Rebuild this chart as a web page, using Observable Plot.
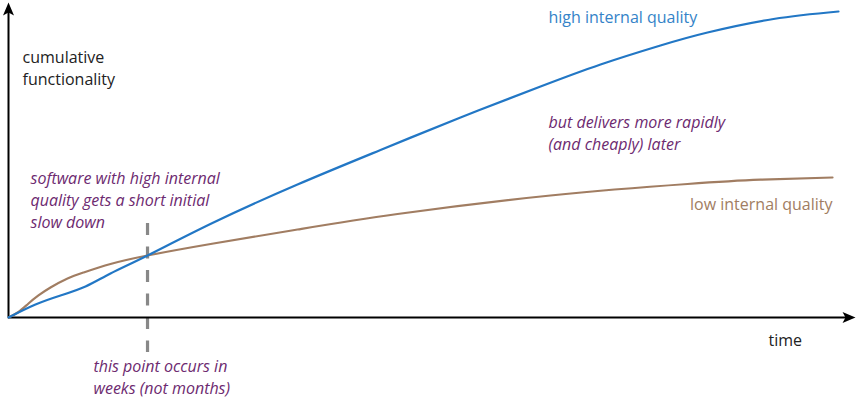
<!DOCTYPE html>
<html>
<head>
<meta charset="utf-8">
<script src="https://cdn.jsdelivr.net/npm/d3@7"></script>
<script src="https://cdn.jsdelivr.net/npm/@observablehq/plot@0.6"></script>
<style>
  html, body { margin: 0; padding: 0; background: #fff; }
  #chart svg { display: block; }
</style>
</head>
<body>
<div id="chart"></div>
<script>
// time (0..100) and cumulative functionality (0..100)
const highTime = [0, 3.25, 6.27, 9.28, 12.29, 16.75, 24.70, 34.82, 44.82, 54.46, 64.10, 71.33, 78.55, 84.22, 92.17, 100];
const highFunc = [0, 4.23, 7.17, 10.10, 14.33, 20.20, 30.94, 43.32, 54.56, 65.15, 75.24, 82.41, 88.60, 92.83, 97.23, 99.67];
const lowTime = [0, 1.20, 2.41, 3.61, 5.06, 7.11, 9.04, 12.29, 16.75, 24.70, 34.82, 46.87, 65.30, 81.81, 90.60, 99.28];
const lowFunc = [0, 1.79, 4.56, 7.17, 9.77, 12.70, 14.66, 17.43, 20.20, 24.10, 28.66, 33.71, 39.74, 43.49, 44.89, 45.60];

const crossTime = 16.75;          // where the two curves cross
const axisEnd = {x: 102.05, y: 102.6};

const labels = [
  {t: 1.69, f: 75.6, text: "cumulative\nfunctionality", color: "#222", italic: false, anchor: "start"},
  {t: 91.57, f: -9.2, text: "time", color: "#222", italic: false, anchor: "start"},
  {t: 65.06, f: 95.8, text: "high internal quality", color: "#3483c8", italic: false, anchor: "start"},
  {t: 99.28, f: 34.9, text: "low internal quality", color: "#a17d62", italic: false, anchor: "end"},
  {t: 65.06, f: 54.4, text: "but delivers more rapidly\n(and cheaply) later", color: "#6d2a70", italic: true, anchor: "start"},
  {t: 2.65, f: 29.3, text: "software with high internal\nquality gets a short initial\nslow down", color: "#6d2a70", italic: true, anchor: "start"},
  {t: 10.24, f: -25.0, text: "this point occurs in\nweeks (not months)", color: "#6d2a70", italic: true, anchor: "start"}
];

const high = highTime.map((t, i) => ({t, f: highFunc[i]}));
const low = lowTime.map((t, i) => ({t, f: lowFunc[i]}));

const arrowHead = {
  draw(context, size) {
    context.moveTo(0, 0);
    context.lineTo(5.5, 13);
    context.lineTo(0, 10);
    context.lineTo(-5.5, 13);
    context.closePath();
  }
};

const textMark = (items, italic, anchor) => Plot.text(items, {
  x: "t", y: "f", text: "text", fill: "color",
  textAnchor: anchor,
  lineAnchor: "bottom", lineHeight: 1.375,
  fontSize: 16, fontStyle: italic ? "italic" : "normal",
  fontFamily: "Open Sans"
});

const chart = Plot.plot({
  width: 857,
  height: 406,
  margin: 0,
  x: {domain: [0, 100], range: [8, 838], axis: null},
  y: {domain: [0, 100], range: [317, 10], axis: null},
  style: {fontFamily: "Open Sans", background: "#fff"},
  marks: [
    Plot.ruleX([crossTime], {y1: 30.6, y2: -11.4, stroke: "#888", strokeWidth: 3.2, strokeDasharray: "12,11.5"}),
    Plot.ruleY([0], {x1: 0, x2: axisEnd.x - 0.6, stroke: "#000", strokeWidth: 2}),
    Plot.ruleX([0], {y1: 0, y2: axisEnd.y - 1.5, stroke: "#000", strokeWidth: 2}),
    Plot.dot([{t: 0, f: axisEnd.y}], {x: "t", y: "f", symbol: arrowHead, fill: "#000", stroke: null, r: 5}),
    Plot.dot([{t: axisEnd.x, f: 0}], {x: "t", y: "f", symbol: arrowHead, fill: "#000", stroke: null, r: 5, rotate: 90}),
    Plot.line(low, {x: "t", y: "f", stroke: "#a17d62", strokeWidth: 2.2, curve: "natural"}),
    Plot.line(high, {x: "t", y: "f", stroke: "#2277c5", strokeWidth: 2.2, curve: "natural"}),
    textMark(labels.filter(d => !d.italic && d.anchor === "start"), false, "start"),
    textMark(labels.filter(d => !d.italic && d.anchor === "end"), false, "end"),
    textMark(labels.filter(d => d.italic), true, "start")
  ]
});
document.getElementById("chart").appendChild(chart);
</script>
</body>
</html>
